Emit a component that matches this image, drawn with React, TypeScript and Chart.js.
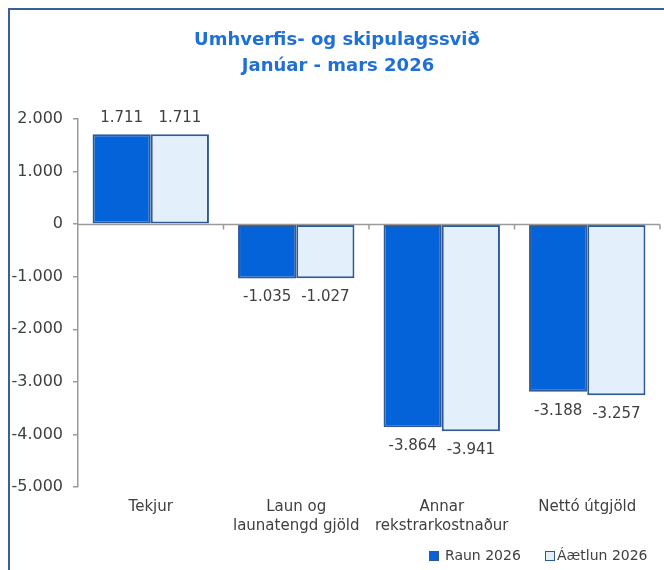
import React, { useEffect, useRef } from "react";
import { Chart, registerables } from "chart.js";

Chart.register(...registerables);

const categories: (string | string[])[] = [
  "Tekjur",
  ["Laun og", "launatengd gjöld"],
  ["Annar", "rekstrarkostnaður"],
  "Nettó útgjöld",
];
const raun2026 = [1711, -1035, -3864, -3188];
const aaetlun2026 = [1711, -1027, -3941, -3257];
const seriesNames = ["Raun 2026", "Áætlun 2026"];
const titleLines = ["Umhverfis- og skipulagssvið", "Janúar - mars 2026"];
const yMin = -5000;
const yMax = 2000;
const yStep = 1000;

const BLUE = "#0563DA";
const LIGHT = "#E4EFFC";
const BORDER = "#2F5A96";
const TEXT = "#404040";
const AXIS = "#9A9A9A";
const TITLE = "#1F6FD8";
const FONT = "'DejaVu Sans', sans-serif";

function fmt(v: number): string {
  const s = Math.round(Math.abs(v)).toString().replace(/\B(?=(\d{3})+(?!\d))/g, ".");
  return (v < 0 ? "-" : "") + s;
}

const decorPlugin = {
  id: "decor",
  beforeDraw(chart: any) {
    const ctx = chart.ctx;
    ctx.save();
    ctx.fillStyle = "#ffffff";
    ctx.fillRect(0, 0, chart.width, chart.height);
    ctx.strokeStyle = "#3B5F9A";
    ctx.lineWidth = 2;
    ctx.beginPath();
    ctx.moveTo(9, chart.height + 5);
    ctx.lineTo(9, 9);
    ctx.lineTo(chart.width + 5, 9);
    ctx.stroke();
    ctx.restore();
  },
  afterDatasetsDraw(chart: any) {
    const ctx = chart.ctx;
    const area = chart.chartArea;
    const y = chart.scales.y;
    ctx.save();
    // zero line and category ticks
    const y0 = Math.round(y.getPixelForValue(0)) + 0.5;
    ctx.strokeStyle = AXIS;
    ctx.lineWidth = 1.5;
    ctx.beginPath();
    ctx.moveTo(area.left, y0);
    ctx.lineTo(area.right, y0);
    const n = categories.length;
    for (let i = 1; i <= n; i++) {
      const px = area.left + ((area.right - area.left) * i) / n;
      ctx.moveTo(px, y0);
      ctx.lineTo(px, y0 + 5);
    }
    ctx.stroke();

    // data labels
    ctx.fillStyle = TEXT;
    ctx.font = `15px ${FONT}`;
    ctx.textAlign = "center";
    ctx.textBaseline = "middle";
    chart.data.datasets.forEach((ds: any, di: number) => {
      const meta = chart.getDatasetMeta(di);
      meta.data.forEach((bar: any, i: number) => {
        const v = ds.data[i];
        const ly = v >= 0 ? bar.y - 16 : bar.y + 19;
        ctx.fillText(fmt(v), bar.x, ly);
      });
    });

    // title
    ctx.fillStyle = TITLE;
    ctx.font = `bold 18px ${FONT}`;
    ctx.textAlign = "center";
    ctx.textBaseline = "middle";
    ctx.fillText(titleLines[0], 337, 40);
    ctx.fillText(titleLines[1], 338, 66);

    // legend
    ctx.font = `14px ${FONT}`;
    ctx.textAlign = "left";
    ctx.textBaseline = "middle";
    const items = [
      { fill: BLUE, mx: 429, tx: 445 },
      { fill: LIGHT, mx: 545, tx: 557 },
    ];
    items.forEach((it, k) => {
      ctx.fillStyle = it.fill;
      ctx.fillRect(it.mx, 551, 10, 10);
      ctx.strokeStyle = BORDER;
      ctx.lineWidth = 1;
      ctx.strokeRect(it.mx + 0.5, 551.5, 9, 9);
      ctx.fillStyle = TEXT;
      ctx.fillText(seriesNames[k], it.tx, 556);
    });
    ctx.restore();
  },
};

export default function App() {
  const ref = useRef<HTMLCanvasElement | null>(null);
  useEffect(() => {
    if (!ref.current) return;
    const chart = new Chart(ref.current, {
      type: "bar",
      data: {
        labels: categories as any,
        datasets: [
          {
            label: seriesNames[0],
            data: raun2026,
            backgroundColor: BLUE,
            borderColor: BORDER,
            borderWidth: 2,
            borderSkipped: false,
          },
          {
            label: seriesNames[1],
            data: aaetlun2026,
            backgroundColor: LIGHT,
            borderColor: BORDER,
            borderWidth: 2,
            borderSkipped: false,
          },
        ],
      },
      options: {
        animation: false,
        responsive: false,
        maintainAspectRatio: false,
        layout: { padding: { left: 0, right: 4, top: 119, bottom: 0 } },
        plugins: {
          legend: { display: false },
          title: { display: false },
          tooltip: { enabled: false },
        },
        datasets: {
          bar: { categoryPercentage: 0.8, barPercentage: 1.0 },
        },
        scales: {
          x: {
            grid: { display: false, drawTicks: false },
            border: { display: false },
            ticks: {
              color: TEXT,
              font: { family: FONT, size: 15, lineHeight: 1.25 },
              padding: 11,
              maxRotation: 0,
              autoSkip: false,
            },
            afterFit(scale: any) {
              scale.height = 83;
            },
          },
          y: {
            min: yMin,
            max: yMax,
            grid: {
              drawOnChartArea: false,
              drawTicks: true,
              tickLength: 5,
              color: AXIS,
              lineWidth: 1.5,
            },
            border: { display: true, color: AXIS, width: 1.5 },
            ticks: {
              stepSize: yStep,
              color: TEXT,
              font: { family: FONT, size: 16 },
              padding: 10,
              callback: (v: any) => fmt(Number(v)),
            },
            afterFit(scale: any) {
              scale.width = 78;
            },
          },
        },
      } as any,
      plugins: [decorPlugin],
    });
    return () => chart.destroy();
  }, []);
  return (
    <div style={{ position: "fixed", left: 0, top: 0, width: 664, height: 570, background: "#fff" }}>
      <canvas ref={ref} width={664} height={570} style={{ display: "block", width: 664, height: 570 }} />
    </div>
  );
}
